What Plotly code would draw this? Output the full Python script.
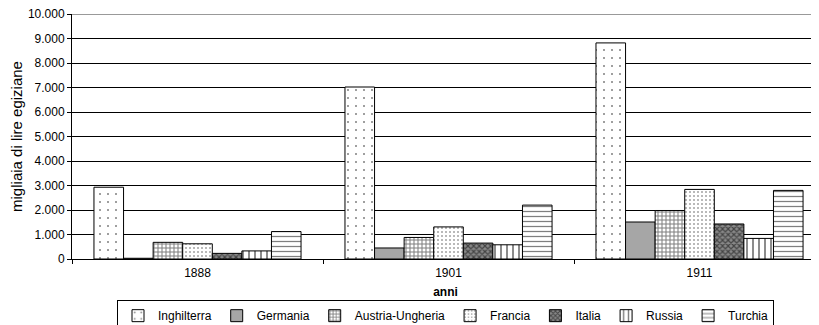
import plotly.graph_objects as go

years = ["1888", "1901", "1911"]
series_names = ["Inghilterra", "Germania", "Austria-Ungheria", "Francia", "Italia", "Russia", "Turchia"]
inghilterra = [2930, 7020, 8820]
germania = [30, 450, 1510]
austria = [680, 880, 1980]
francia = [620, 1310, 2840]
italia = [230, 650, 1430]
russia = [330, 580, 840]
turchia = [1120, 2200, 2800]
y_ticks = [0, 1000, 2000, 3000, 4000, 5000, 6000, 7000, 8000, 9000, 10000]

values = [inghilterra, germania, austria, francia, italia, russia, turchia]
patterns = [
    dict(shape=".", fgcolor="black", bgcolor="white", size=8, solidity=0.05),
    dict(shape="", fillmode="replace"),
    dict(shape="+", fgcolor="black", bgcolor="white", size=4, solidity=0.45),
    dict(shape=".", fgcolor="#444", bgcolor="white", size=4, solidity=0.2),
    dict(shape="x", fgcolor="black", bgcolor="#888", size=4, solidity=0.5),
    dict(shape="|", fgcolor="black", bgcolor="white", size=6, solidity=0.3),
    dict(shape="-", fgcolor="black", bgcolor="white", size=5, solidity=0.25),
]
colors = ["white", "#a6a6a6", "white", "white", "#888", "white", "white"]

FONT = "Liberation Sans, Arial, Helvetica, sans-serif"

fig = go.Figure()
for name, vals, pat, col in zip(series_names, values, patterns, colors):
    fig.add_trace(go.Bar(
        x=years, y=vals, name=name,
        marker=dict(color=col, pattern=pat, line=dict(color="black", width=1)),
    ))

# page body has an 8px margin, so the figure is shrunk and shifted accordingly
fig.update_layout(
    width=811, height=317,
    margin=dict(l=64, r=0, t=6, b=66, autoexpand=False),
    paper_bgcolor="white", plot_bgcolor="white",
    barmode="group", bargap=0.175, bargroupgap=0,
    separators=",.",
    font=dict(family=FONT, size=11, color="black"),
    legend=dict(orientation="h", x=0.5, xanchor="center", y=-0.168, yanchor="top",
                bordercolor="black", borderwidth=1, font=dict(family=FONT, size=12),
                itemwidth=30, tracegroupgap=0),
    showlegend=True,
)
fig.update_xaxes(
    type="category", range=[-0.5, 2.476],
    showline=True, linecolor="black", linewidth=1,
    ticks="outside", tickson="boundaries", ticklen=4, tickcolor="black",
    tickfont=dict(family=FONT, size=12), ticklabelstandoff=3,
    title=dict(text="<b>anni</b>", standoff=8, font=dict(family=FONT, size=12)),
    showgrid=False,
)
fig.update_yaxes(
    range=[0, 10000], tickvals=y_ticks, tickformat=",d",
    showline=True, linecolor="black", linewidth=1,
    ticks="outside", ticklen=4, tickcolor="black",
    tickfont=dict(family=FONT, size=12), ticklabeloverflow="allow",
    showgrid=True, gridcolor="black", gridwidth=1,
    title=dict(text="migliaia di lire egiziane", font=dict(family=FONT, size=15), standoff=6),
    zeroline=False,
)
fig.add_shape(type="line", xref="paper", yref="y", x0=0, x1=1, y0=10000, y1=10000,
              line=dict(color="#999", width=2))

fig.write_html("out.html")
